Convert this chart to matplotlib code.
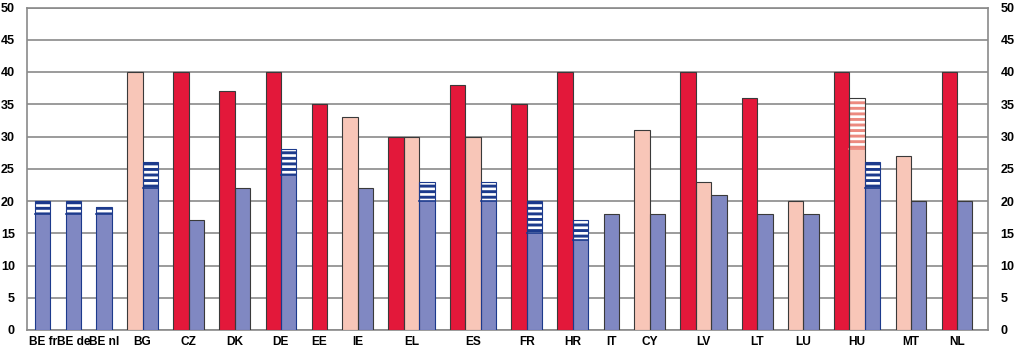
import matplotlib
matplotlib.use("Agg")
import matplotlib.pyplot as plt

plt.rcParams['font.family'] = ['Liberation Sans', 'DejaVu Sans']
plt.rcParams['hatch.linewidth'] = 2.1

countries = ['BE fr', 'BE de', 'BE nl', 'BG', 'CZ', 'DK', 'DE', 'EE', 'IE', 'EL', 'ES',
             'FR', 'HR', 'IT', 'CY', 'LV', 'LT', 'LU', 'HU', 'MT', 'NL']
red = [None, None, None, None, 40, 37, 40, 35, None, 30, 38,
       35, 40, None, None, 40, 36, None, 40, None, 40]
pink = [None, None, None, 40, None, None, None, None, 33, 30, 30,
        None, None, None, 31, 23, None, 20, 28, 27, None]
pink_range = [None, None, None, None, None, None, None, None, None, None, None,
              None, None, None, None, None, None, None, 36, None, None]
blue = [18, 18, 18, 22, 17, 22, 24, None, 22, 20, 20,
        15, 14, 18, 18, 21, 18, 18, 22, 20, 20]
blue_range = [20, 20, 19, 26, None, None, 28, None, None, 23, 23,
              20, 17, None, None, None, None, None, 26, None, None]

c_red = '#e3183a'
c_pink = '#f8c6b8'
c_blue = '#8088c2'
c_navy = '#1c3a8c'
c_salmon = '#ec8a80'
c_edge = '#3a3a3a'

fig = plt.figure(figsize=(10.24, 3.51), dpi=100)
ax = fig.add_axes([27.3 / 1024, 21 / 351, 960.5 / 1024, 322.5 / 351])

centers = []
pos = 0
for i, c in enumerate(countries):
    start = pos
    series = [(red[i], None, c_red, None),
              (pink[i], pink_range[i], c_pink, c_salmon),
              (blue[i], blue_range[i], c_blue, c_navy)]
    for val, top, col, hcol in series:
        if val is None:
            continue
        ax.bar(pos, val, width=1, align='edge', color=col, linewidth=0, zorder=3)
        if top is not None:
            # hatched part on top of the solid bar
            ax.bar(pos, top - val, bottom=val, width=1, align='edge', facecolor='white',
                   edgecolor=hcol, hatch='---', linewidth=0, zorder=3)
            ax.plot([pos, pos + 1], [val, val], color=hcol, lw=1.2, zorder=4)
        full = top if top is not None else val
        ax.bar(pos, full, width=1, align='edge', fill=False,
               edgecolor=hcol if (top is not None and hcol == c_navy) else c_edge,
               linewidth=0.8, zorder=4)
        pos += 1
    centers.append((start + pos) / 2)
    pos += 1

ax.set_xlim(-0.5, pos)
ax.set_ylim(0, 50)
ax.set_yticks(range(0, 51, 5))
ax.set_xticks(centers)
ax.set_xticklabels(countries)
ax.yaxis.grid(True, color='#8a8a8a', linewidth=1.2, zorder=0)
ax.set_axisbelow(True)
for s in ax.spines.values():
    s.set_color('#8a8a8a')
    s.set_linewidth(1.2)
ax.tick_params(axis='y', length=0, pad=9, labelsize=9, labelright=True)
ax.tick_params(axis='x', length=0, pad=4, labelsize=8.6)
for lab in ax.get_xticklabels() + ax.get_yticklabels():
    lab.set_fontweight('bold')
for t in ax.yaxis.get_major_ticks():
    t.label2.set_fontweight('bold')

fig.savefig('out.png', dpi=100)
